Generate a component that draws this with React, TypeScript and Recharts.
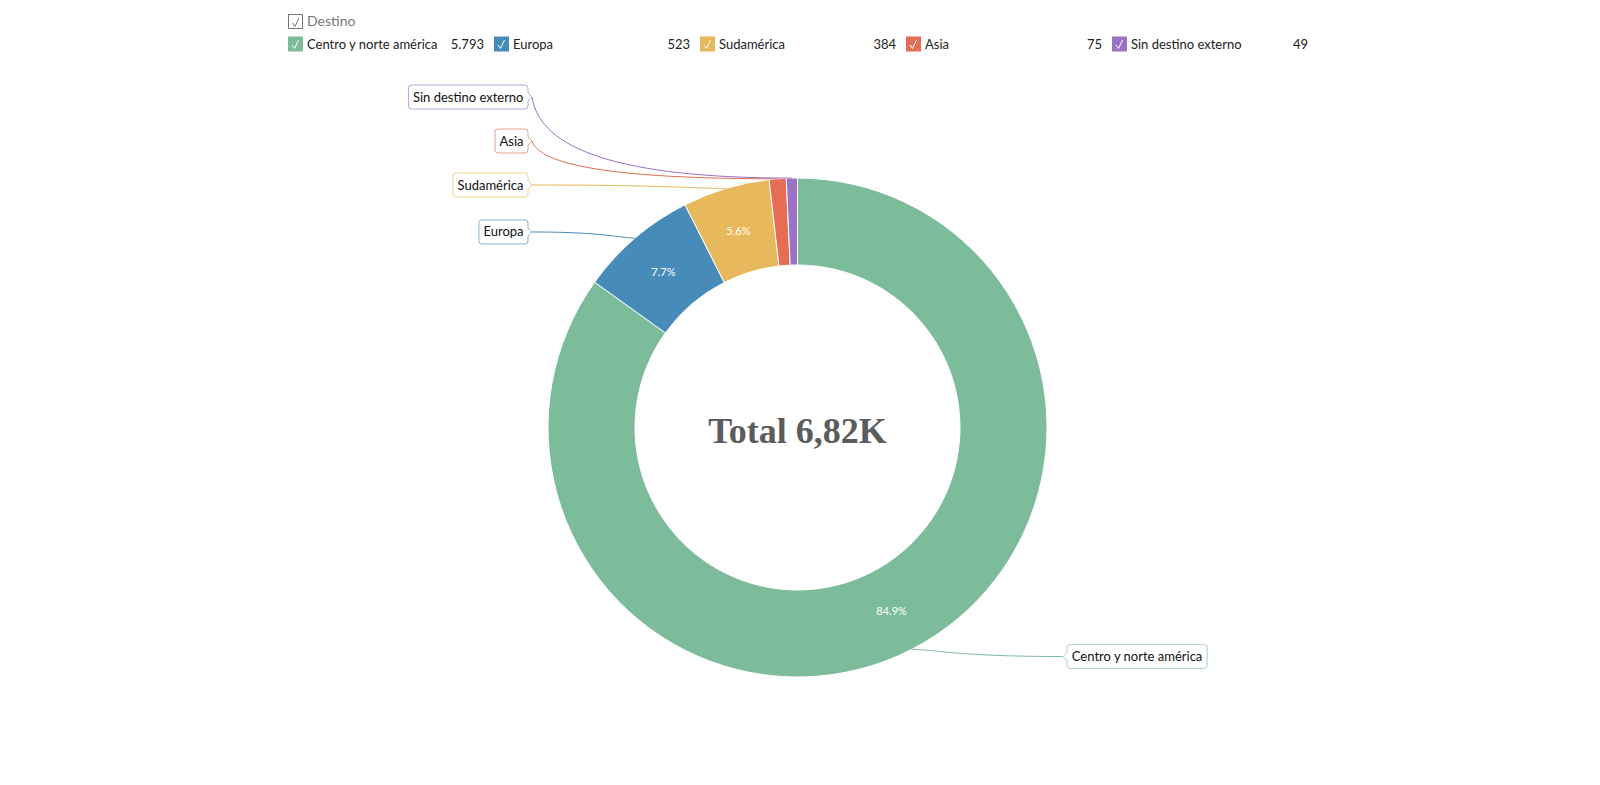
import React from 'react';
import { PieChart, Pie, Cell, Label } from 'recharts';

const categories = ['Centro y norte américa', 'Europa', 'Sudamérica', 'Asia', 'Sin destino externo'];
const values = [5793, 523, 384, 75, 49];
const colors = ['#7cbc9b', '#478cb8', '#e8b85c', '#e56d53', '#9b72c4'];
const legendTitle = 'Destino';
const totalPrefix = 'Total';

const data = categories.map((name, i) => ({ name, value: values[i] }));
const total = values.reduce((a, b) => a + b, 0);

const W = 1600;
const H = 785;
const CX = 797.5;
const CY = 427.5;
const R_OUT = 249.5;
const R_IN = 162.5;
const START = 90;
const END = -270;
const FONT = 'Lato, "Noto Sans", sans-serif';
const RAD = Math.PI / 180;
const LABEL_MIN_Y = 97;
const LABEL_GAP = 44;

const fmtThousands = (v: number) => v.toString().replace(/\B(?=(\d{3})+(?!\d))/g, '.');
const fmtTotal = (v: number) => (v / 1000).toFixed(2).replace('.', ',') + 'K';

let measureCtx: CanvasRenderingContext2D | null = null;
function textWidth(t: string, font: string) {
  if (!measureCtx) {
    const c = document.createElement('canvas');
    measureCtx = c.getContext('2d');
  }
  if (!measureCtx) return t.length * 6.5;
  measureCtx.font = font;
  return measureCtx.measureText(t).width;
}

// label layout (avoid overlaps on each side)
function computeLayout() {
  let acc = 0;
  const items = values.map((v, i) => {
    const mid = START + (END - START) * ((acc + v / 2) / total);
    acc += v;
    const side = Math.cos(-mid * RAD) >= 0 ? 1 : -1;
    const naturalY = CY + (R_OUT + 8) * Math.sin(-mid * RAD);
    return { i, side, naturalY, y: naturalY };
  });
  [1, -1].forEach((side) => {
    const list = items.filter((it) => it.side === side).sort((a, b) => b.naturalY - a.naturalY);
    // bottom-up: push upward
    let prev = Infinity;
    list.forEach((it) => {
      it.y = Math.min(it.naturalY, prev - LABEL_GAP);
      prev = it.y;
    });
    // top-down: respect the top limit
    const asc = [...list].reverse();
    let prevTop = -Infinity;
    asc.forEach((it) => {
      it.y = Math.max(it.y, LABEL_MIN_Y, prevTop + LABEL_GAP);
      prevTop = it.y;
    });
  });
  const res: { side: number; y: number }[] = [];
  items.forEach((it) => (res[it.i] = { side: it.side, y: it.y }));
  return res;
}
const layout = computeLayout();

const renderLabel = (props: any) => {
  const { cx, cy, midAngle, outerRadius, innerRadius, percent, index } = props;
  const color = colors[index];
  const mr = (innerRadius + outerRadius) / 2;
  const px = cx + mr * Math.cos(-midAngle * RAD);
  const py = cy + mr * Math.sin(-midAngle * RAD);
  const ax = cx + outerRadius * Math.cos(-midAngle * RAD);
  const ay = cy + outerRadius * Math.sin(-midAngle * RAD);
  const lay = layout[index];
  const s = lay.side;
  const ly = lay.y;
  const name = categories[index];
  const w = textWidth(name, `13px ${FONT}`) + 9;
  const boxEdge = cx + s * (outerRadius + 20);
  const tipX = boxEdge - s * 4;
  const x0 = s < 0 ? boxEdge - w : boxEdge;
  const x1 = s < 0 ? boxEdge : boxEdge + w;
  const y0 = ly - 12;
  const y1 = ly + 12;
  const r = 3;
  let box: string;
  if (s < 0) {
    box = `M${x0 + r},${y0} H${x1 - r} Q${x1},${y0} ${x1},${y0 + r} V${ly - 4} L${tipX},${ly} L${x1},${ly + 4} V${y1 - r} Q${x1},${y1} ${x1 - r},${y1} H${x0 + r} Q${x0},${y1} ${x0},${y1 - r} V${y0 + r} Q${x0},${y0} ${x0 + r},${y0} Z`;
  } else {
    box = `M${x0 + r},${y0} H${x1 - r} Q${x1},${y0} ${x1},${y0 + r} V${y1 - r} Q${x1},${y1} ${x1 - r},${y1} H${x0 + r} Q${x0},${y1} ${x0},${y1 - r} V${ly + 4} L${tipX},${ly} L${x0},${ly - 4} V${y0 + r} Q${x0},${y0} ${x0 + r},${y0} Z`;
  }
  const dx = ax - tipX;
  const dy = ay - ly;
  let line: string;
  if (Math.abs(dy) < 20) {
    line = `M${tipX},${ly} C${tipX + 0.7 * dx},${ly} ${tipX + 0.85 * dx},${ay} ${ax},${ay}`;
  } else {
    line = `M${tipX},${ly} C${tipX + Math.sign(dx) * 8},${ly + 0.65 * dy} ${tipX + 0.34 * dx},${ay} ${ax},${ay}`;
  }
  return (
    <g>
      {percent > 0.02 && (
        <text x={px} y={py} fill="#ffffff" fontSize={11} fontFamily={FONT} textAnchor="middle" dominantBaseline="central">
          {(percent * 100).toFixed(1) + '%'}
        </text>
      )}
      <path d={line} fill="none" stroke={color} strokeWidth={1} />
      <path d={box} fill="#ffffff" stroke={color} strokeOpacity={0.65} strokeWidth={1} />
      <text x={(x0 + x1) / 2} y={ly + 4.5} fill="#111" fontSize={13} fontFamily={FONT} textAnchor="middle">
        {name}
      </text>
    </g>
  );
};

const Check = ({ x, y, color }: { x: number; y: number; color: string }) => (
  <path d={`M${x + 4},${y + 8.5} L${x + 6.5},${y + 12} L${x + 10.5},${y + 3.5}`} fill="none" stroke={color} strokeWidth={1} />
);

const LegendOverlay = () => {
  const X0 = 288;
  const PITCH = 206;
  return (
    <svg width={W} height={70} style={{ position: 'absolute', left: 0, top: 0 }}>
      <rect x={288.5} y={14.5} width={14} height={14} fill="#fff" stroke="#777" strokeWidth={1} />
      <Check x={288.5} y={14.5} color="#777" />
      <text x={307} y={25.5} fontSize={14} fontFamily={FONT} fill="#777">{legendTitle}</text>
      {categories.map((c, i) => {
        const x = X0 + PITCH * i;
        return (
          <g key={c}>
            <rect x={x} y={36.5} width={15} height={15} fill={colors[i]} />
            <Check x={x} y={36.5} color="#ffffff" />
            <text x={x + 19} y={49} fontSize={13} fontFamily={FONT} fill="#222">{c}</text>
            <text x={x + 196} y={49} fontSize={13} fontFamily={FONT} fill="#222" textAnchor="end">{fmtThousands(values[i])}</text>
          </g>
        );
      })}
    </svg>
  );
};

export default function App() {
  return (
    <div style={{ position: 'absolute', left: 0, top: 0, width: W, height: H, background: '#fff' }}>
      <PieChart width={W} height={H} margin={{ top: 0, right: 0, bottom: 0, left: 0 }}>
        <Pie
          data={data}
          dataKey="value"
          nameKey="name"
          cx={CX}
          cy={CY}
          innerRadius={R_IN}
          outerRadius={R_OUT}
          startAngle={START}
          endAngle={END}
          stroke="#ffffff"
          strokeWidth={1}
          label={renderLabel}
          labelLine={false}
          isAnimationActive={false}
        >
          {data.map((d, i) => (
            <Cell key={d.name} fill={colors[i]} />
          ))}
          <Label
            position="center"
            content={(p: any) => {
              const vb = p.viewBox || {};
              const x = vb.cx ?? CX;
              const y = vb.cy ?? CY;
              return (
                <text x={x} y={y + 15} textAnchor="middle" fontFamily='"Liberation Serif", "Times New Roman", serif' fontWeight="bold" fontSize={36} fill="#5c5c5c">
                  {`${totalPrefix} ${fmtTotal(total)}`}
                </text>
              );
            }}
          />
        </Pie>
      </PieChart>
      <LegendOverlay />
    </div>
  );
}
